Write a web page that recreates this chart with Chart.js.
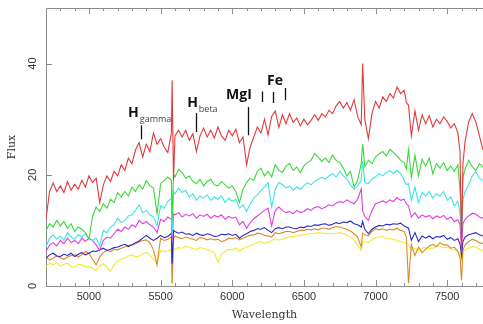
<!DOCTYPE html>
<html>
<head>
<meta charset="utf-8">
<script src="https://cdn.jsdelivr.net/npm/chart.js@4"></script>
<style>
  body { margin: 0; background: #fff; }
  #wrap { width: 483px; height: 324px; }
</style>
</head>
<body>
<div id="wrap"><canvas id="myChart" width="483" height="324"></canvas></div>
<script>
// wavelength grid (Angstrom), shared by all spectra
const wavelength = [
  4700, 4725, 4750, 4775, 4800, 4825, 4850, 4875, 4900, 4925,
  4950, 4975, 5000, 5025, 5050, 5075, 5100, 5125, 5150, 5175,
  5200, 5225, 5250, 5275, 5300, 5325, 5350, 5375, 5400, 5425,
  5450, 5475, 5500, 5525, 5550, 5575, 5580, 5590, 5600, 5625,
  5650, 5675, 5700, 5725, 5750, 5775, 5800, 5825, 5850, 5875,
  5900, 5925, 5950, 5975, 6000, 6025, 6050, 6075, 6100, 6125,
  6150, 6175, 6200, 6225, 6250, 6275, 6300, 6325, 6350, 6375,
  6400, 6425, 6450, 6475, 6500, 6525, 6550, 6575, 6600, 6625,
  6650, 6675, 6700, 6725, 6750, 6775, 6800, 6825, 6850, 6875,
  6900, 6910, 6925, 6950, 6975, 7000, 7025, 7050, 7075, 7100,
  7125, 7150, 7175, 7200, 7215, 7230, 7250, 7275, 7300, 7325,
  7350, 7375, 7400, 7425, 7450, 7475, 7500, 7525, 7550, 7575,
  7590, 7600, 7610, 7625, 7650, 7675, 7700, 7725, 7750
]

const fluxRed = [
  12, 17, 18.5, 17, 18, 16.8, 18.8, 17.2, 18.3, 17.4,
  19, 17.8, 19.8, 18.6, 19.4, 15, 18.2, 19.8, 18.8, 20.6,
  19.8, 21.8, 20.8, 23, 22, 24.5, 25.8, 23.2, 25.5, 24.2,
  27.5, 25.5, 26.5, 25, 24, 27.5, 37, 19, 27, 28,
  26.8, 28, 26.2, 27.4, 24.2, 27, 28.4, 26.8, 28, 26.6,
  28.6, 27, 26.2, 28, 27, 28.2, 25.8, 26.8, 21.8, 25,
  26.8, 28.6, 27.5, 30, 27.2, 30.5, 31.5, 28.5, 30.8, 29.2,
  31, 29.4, 30.2, 28.8, 30, 29, 29.8, 30.8, 29.8, 31,
  30.4, 31.6, 31, 32.4, 33.2, 32, 33, 31.6, 33.5, 30.5,
  29, 40, 30, 26.5, 31, 33.2, 32, 34, 33.2, 34.6,
  33.8, 35.8, 34.6, 35.2, 33, 32.5, 27, 31.5, 28, 30.8,
  29.2, 30.6, 28.6, 30, 29.2, 30.4, 29.6, 28.4, 29.2, 27.5,
  24, 6, 22, 26, 29.5, 31, 29.5, 27, 24.5
]
const fluxGreen = [
  10, 11.2, 10.6, 11.8, 10.8, 11.6, 10.4, 11.2, 9.8, 10.6,
  10.2, 9.6, 8.4, 12.5, 14.2, 13.4, 14.8, 14, 15.6, 15,
  16.8, 16, 17, 16.2, 17.8, 17, 18.2, 17.4, 19, 18,
  17.6, 13, 18.4, 19, 19.6, 19, 12, 20, 19.6, 21,
  20.4, 19.4, 19.8, 18.8, 18.4, 19.2, 18, 18.8, 19.2, 18.2,
  18, 18.8, 18.2, 17.6, 18, 17, 15, 17.4, 18.6, 19.4,
  19, 20.6, 21.2, 19.8, 20.6, 19.6, 21.8, 20.8, 20.4, 21.6,
  22, 20.8, 21.4, 20.4, 21.6, 22.2, 22.6, 23.8, 23.2, 22.4,
  23, 22.2, 23.6, 22.6, 22.2, 21.2, 19.8, 20.6, 17.8, 19,
  22, 25.5, 21.5, 22.6, 22, 23.2, 23.8, 24.2, 23.4, 24.6,
  24, 23.4, 22.6, 22.2, 21, 24.5, 19.5, 23.5, 19.8, 22.8,
  21.6, 23, 20.2, 22, 21.2, 22.2, 20.8, 21.6, 20.6, 21.8,
  17, 13, 19.5, 21, 22.6, 21.4, 20.8, 22, 21.4
]
const fluxCyan = [
  7, 8.6, 9.2, 8.4, 9, 8.2, 9.6, 8.8, 8.4, 9.2,
  8.8, 9.4, 8.6, 8.2, 8.6, 7.2, 10, 9.6, 10.6, 11,
  12.2, 11.4, 11.8, 12.6, 12.8, 13.6, 14.6, 13.2, 13.6, 12.8,
  12.4, 10.8, 14.4, 14, 15.2, 15.8, 9, 17, 16.6, 17.6,
  16.8, 17.2, 16, 16.6, 15.4, 16.2, 15.8, 16.4, 15.4, 16,
  15.6, 16.2, 15, 15.8, 15.2, 15.6, 14, 14.6, 13.4, 14.8,
  15.8, 16.4, 17.2, 17.8, 18.6, 14.2, 17.4, 18.6, 18.2, 17.6,
  18, 17.2, 17.8, 17.4, 18, 18.6, 18.2, 18.8, 19.2, 19.6,
  19.2, 19.8, 20.2, 19.6, 20.6, 19.8, 19.2, 18.2, 17.4, 18,
  19, 22.5, 18.6, 18.4, 19.2, 19.6, 20.2, 19.8, 20.4, 20.8,
  20.2, 20.8, 20.2, 19, 18.2, 18.4, 15.4, 17.8, 15, 16.8,
  16.2, 17, 15.8, 16.6, 16.2, 17, 15.4, 16, 14.4, 15.2,
  13, 9, 15.5, 17, 18.2, 19.8, 20.6, 19.4, 19
]
const fluxMagenta = [
  6.2, 7.4, 7.8, 7.2, 8.2, 7.6, 8.6, 7.8, 8.2, 7.6,
  8.6, 8, 8.6, 8.2, 7.4, 6.4, 8.2, 8.8, 8.6, 9.4,
  10.2, 9.8, 10.6, 10.2, 11, 10.6, 11.8, 11.2, 11.6, 11,
  10.6, 9.6, 12, 11.6, 12.4, 12, 8, 13, 12.8, 13.2,
  12.4, 12.9, 12.6, 13, 12.2, 12.8, 12.5, 12.9, 12.2, 12.7,
  12.4, 12.8, 12, 12.5, 12.2, 12.4, 11, 11.6, 10.4, 11.4,
  12.1, 12.6, 13.1, 13.6, 14, 10.8, 13.6, 14.2, 13.6, 13.2,
  13.4, 13, 13.6, 13.2, 13.4, 13.9, 13.6, 14.1, 14.3, 13.9,
  14.2, 14.6, 14.4, 14.9, 15.2, 15, 15.5, 15.1, 14.8, 15.6,
  17.5, 13.5, 12.5, 11.8, 13.6, 14.8, 15, 15.3, 15, 15.5,
  15.2, 15.9, 15.4, 15.6, 14.8, 14.4, 12.4, 13.2, 12.2, 12.8,
  12.4, 12.7, 12.1, 12.6, 12.3, 12.7, 12, 12.4, 11.6, 11.9,
  11, 7, 11.2, 12, 12.6, 13.1, 12.9, 12.4, 12.2
]
const fluxBlue = [
  5, 5.6, 5.9, 5.4, 5.3, 5.7, 5.5, 5.9, 5.3, 5.7,
  6, 5.6, 5.9, 6.3, 6.2, 6.5, 6.8, 6.4, 6.6, 6.9,
  7, 7.3, 7.5, 7.1, 7.4, 7.8, 8.1, 8.6, 9.1, 8.6,
  8.2, 8.6, 9.1, 8.7, 8.9, 9.5, 4, 10, 9.8, 9.5,
  9.7, 9.3, 9.4, 9.1, 9.5, 9.2, 9.1, 9.4, 9.2, 8.9,
  9, 9.3, 9.2, 9.4, 9.1, 9.3, 8.6, 9.1, 9.4, 9.8,
  10, 10.3, 10.2, 10.5, 10, 9.6, 10.3, 10.5, 10.3, 10.6,
  10.6, 10.4, 10.3, 10.6, 10.5, 10.8, 10.7, 11, 10.9, 11.1,
  11.2, 10.9, 11.1, 11.4, 11.2, 11.5, 11.4, 11.7, 11.2, 11,
  10.6, 11.6, 10.2, 9.4, 10.2, 10.6, 10.9, 10.8, 11.1, 11,
  11.2, 11.1, 11.3, 10.8, 10.6, 10.4, 8.2, 9.6, 8, 9,
  8.6, 9, 8.5, 8.9, 8.8, 9.1, 8.4, 8.7, 8.2, 8.5,
  7.5, 5.5, 8, 8.8, 9.2, 9.4, 9.6, 9.2, 9
]
const fluxOrange = [
  5.2, 4.7, 5, 5.4, 5.1, 4.8, 5.2, 5.5, 5.6, 5.2,
  5.6, 6.2, 5.9, 4.8, 3.8, 5.2, 6, 6.4, 6.2, 6.6,
  6.5, 6.8, 7, 7.3, 7.4, 7.6, 7.9, 8.2, 8.3, 7.8,
  6.5, 3.8, 8.6, 8.2, 8.4, 8.8, 0.5, 8.5, 9, 8.7,
  8.5, 8.8, 8.6, 8.4, 8.2, 8.7, 8.6, 8.3, 8.5, 8.3,
  8.4, 8, 8.2, 8.6, 8.5, 8.7, 8.3, 8.6, 8.9, 9.1,
  9.2, 9.5, 9.4, 9.1, 9, 8.8, 9.6, 9.4, 9.6, 9.8,
  9.8, 9.6, 9.8, 10, 10, 10.2, 10.1, 10.3, 10.1, 10.4,
  10.4, 10.2, 10.5, 10.7, 10.6, 10.4, 10.2, 9.9, 9.4, 8.8,
  7, 9.5, 9.2, 9, 9.8, 10.3, 10.1, 10.3, 10, 10.2,
  10.1, 10.4, 10, 9.8, 8.8, 0.5, 7.5, 5.5, 7, 6,
  6.6, 7.2, 7.5, 7.1, 7.8, 7.4, 7.4, 6.8, 7, 6.2,
  5, 1, 6.5, 7.4, 8, 8.4, 8.2, 7.8, 7.6
]
const fluxYellow = [
  3.5, 4.1, 3.8, 4.2, 3.6, 3.9, 4.1, 3.5, 3.4, 3.9,
  3.8, 3.4, 3.5, 3.2, 2.8, 3.6, 4, 3.4, 2.6, 3.8,
  4.5, 4.8, 5, 5.4, 5.6, 5.2, 5.4, 5.8, 6, 5.6,
  4.8, 4.2, 6.4, 6.2, 6.3, 6.5, 0.3, 6.4, 6.6, 6.9,
  6.8, 7.1, 7, 6.7, 6.6, 6.9, 6.8, 6.5, 6.3, 6,
  4.2, 5.8, 6.2, 6.6, 6.5, 6.8, 6.3, 6.7, 7, 7.3,
  7.5, 7.8, 8, 7.7, 7.8, 8.2, 8.5, 8.3, 8.4, 8.7,
  8.8, 8.9, 9, 9.1, 9.2, 9.4, 9.4, 9.5, 9.6, 9.5,
  9.5, 9.4, 9.4, 9.5, 9.6, 9.4, 9.2, 8.8, 8.2, 7.4,
  6.4, 8, 7.9, 7.8, 8.4, 8.7, 8.8, 8.9, 8.6, 8.5,
  8.4, 8.2, 8, 7.8, 7.6, 7.5, 6.5, 6.8, 6.4, 6.8,
  7, 6.7, 6.8, 7.1, 7.2, 6.9, 7, 6.7, 6.5, 6.3,
  6, 4.5, 6, 6.5, 6.8, 7.1, 7, 6.6, 6.4
]

const xTicks = [5000, 5500, 6000, 6500, 7000, 7500]
const yTicks = [0, 20, 40]

// line identifications: label, subscript, [wavelength, flux] of label, tick segments
const lineIds = [
  { text: 'H', sub: 'gamma', at: [5273, 30.4], marks: [[5361, 28.9, 26.4]] },
  { text: 'H', sub: 'beta', at: [5685, 32.2], marks: [[5747, 31.1, 27.7]] },
  { text: 'MgI', sub: '', at: [5957, 33.6], marks: [[6111, 32.2, 27.1]] },
  { text: 'Fe', sub: '', at: [6243, 36.1], marks: [[6208, 35.0, 33.1], [6285, 34.9, 32.9], [6369, 35.6, 33.4]] }
]

const spectra = [
  { name: 'red', values: fluxRed, color: '#e23a3a' },
  { name: 'green', values: fluxGreen, color: '#3ad83a' },
  { name: 'cyan', values: fluxCyan, color: '#3ee4e4' },
  { name: 'magenta', values: fluxMagenta, color: '#df3fdf' },
  { name: 'blue', values: fluxBlue, color: '#2828c4' },
  { name: 'orange', values: fluxOrange, color: '#da8a2c' },
  { name: 'yellow', values: fluxYellow, color: '#f0ec2c' }
]

const frame = {
  id: 'frame',
  beforeDatasetsDraw(chart) {
    const { ctx, chartArea: a, scales: { x, y } } = chart
    ctx.save()
    ctx.strokeStyle = '#8c8c8c'
    ctx.lineWidth = 1
    ctx.beginPath()
    ctx.moveTo(a.right, a.top + 0.5)
    ctx.lineTo(a.left + 0.5, a.top + 0.5)
    ctx.lineTo(a.left + 0.5, a.bottom + 0.5)
    ctx.lineTo(a.right, a.bottom + 0.5)
    for (let w = 4800; w <= 7700; w += 100) {
      const px = Math.round(x.getPixelForValue(w)) + 0.5
      const len = w % 500 === 0 ? 6 : 3
      ctx.moveTo(px, a.bottom)
      ctx.lineTo(px, a.bottom - len)
      ctx.moveTo(px, a.top)
      ctx.lineTo(px, a.top + len)
    }
    yTicks.forEach(v => {
      const py = Math.round(y.getPixelForValue(v)) + 0.5
      ctx.moveTo(a.left, py)
      ctx.lineTo(a.left + 6, py)
    })
    ctx.stroke()

    // rotated y tick labels
    ctx.fillStyle = '#333'
    ctx.font = '11px "Liberation Sans", Arial, sans-serif'
    ctx.textAlign = 'center'
    ctx.textBaseline = 'middle'
    yTicks.forEach(v => {
      const py = y.getPixelForValue(v)
      ctx.save()
      ctx.translate(33, py)
      ctx.rotate(-Math.PI / 2)
      ctx.fillText(String(v), 0, 0)
      ctx.restore()
    })
    ctx.restore()
  },
  afterDatasetsDraw(chart) {
    const { ctx, scales: { x, y } } = chart
    ctx.save()
    ctx.textBaseline = 'alphabetic'
    ctx.textAlign = 'left'
    lineIds.forEach(id => {
      const px = x.getPixelForValue(id.at[0])
      const py = y.getPixelForValue(id.at[1])
      ctx.fillStyle = '#111'
      ctx.font = 'bold 14px "Open Sans", "DejaVu Sans", sans-serif'
      ctx.fillText(id.text, px, py)
      if (id.sub) {
        const w = ctx.measureText(id.text).width
        ctx.fillStyle = '#444'
        ctx.font = '9px "Open Sans", "DejaVu Sans", sans-serif'
        ctx.fillText(id.sub, px + w + 1, py + 5)
      }
      ctx.strokeStyle = '#111'
      ctx.lineWidth = 1.3
      ctx.beginPath()
      id.marks.forEach(([w, v1, v2]) => {
        const mx = Math.round(x.getPixelForValue(w)) + 0.5
        ctx.moveTo(mx, y.getPixelForValue(v1))
        ctx.lineTo(mx, y.getPixelForValue(v2))
      })
      ctx.stroke()
    })
    ctx.restore()
  }
}

const chart = new Chart('myChart', {
  type: 'line',
  data: {
    datasets: spectra.map(s => ({
      label: s.name,
      data: wavelength.map((w, i) => ({ x: w, y: s.values[i] })),
      borderColor: s.color,
      borderWidth: 1.1,
      pointRadius: 0,
      tension: 0
    }))
  },
  options: {
    responsive: false,
    animation: false,
    layout: { padding: { top: 8, right: 0, left: 0, bottom: 0 } },
    plugins: { legend: { display: false }, tooltip: { enabled: false } },
    scales: {
      x: {
        type: 'linear',
        min: 4700,
        max: 7750,
        afterFit: s => { s.height = 38 },
        afterBuildTicks: s => { s.ticks = xTicks.map(v => ({ value: v })) },
        grid: { display: false, drawTicks: false },
        border: { display: false },
        ticks: {
          padding: 4,
          color: '#333',
          maxRotation: 0,
          callback: v => String(v),
          font: { family: '"Liberation Sans", Arial, sans-serif', size: 11 }
        },
        title: {
          display: true,
          text: 'Wavelength',
          color: '#333',
          padding: { top: 0, bottom: 2 },
          font: { family: '"DejaVu Serif", serif', size: 11 }
        }
      },
      y: {
        min: 0,
        max: 50,
        afterFit: s => { s.width = 46 },
        grid: { display: false, drawTicks: false },
        border: { display: false },
        ticks: { display: false },
        title: {
          display: true,
          text: 'Flux',
          color: '#333',
          padding: { top: 6, bottom: 0 },
          font: { family: '"DejaVu Serif", serif', size: 11 }
        }
      }
    }
  },
  plugins: [frame]
})
</script>
</body>
</html>
